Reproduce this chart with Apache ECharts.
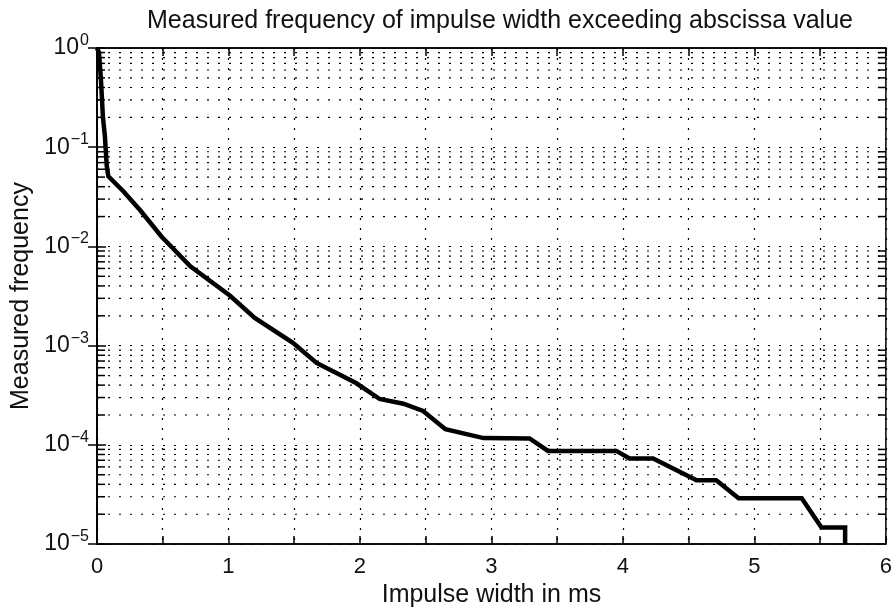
<!DOCTYPE html>
<html>
<head>
<meta charset="utf-8">
<script src="https://cdn.jsdelivr.net/npm/echarts@6/dist/echarts.min.js"></script>
<style>
  html, body { margin: 0; padding: 0; background: #fff; }
  #chart { width: 895px; height: 613px; }
</style>
</head>
<body>
<div id="chart"></div>
<script>
// impulse width (ms) and measured frequency
const widthMs = [0, 0.015, 0.03, 0.045, 0.06, 0.074, 0.086, 0.2, 0.33, 0.49, 0.71, 1.01, 1.2, 1.49, 1.67, 1.97, 2.15, 2.33, 2.48, 2.65, 2.94, 3.29, 3.43, 3.95, 4.05, 4.23, 4.56, 4.71, 4.88, 5.36, 5.51, 5.69, 5.69];
const measuredFreq = [1, 0.9, 0.48, 0.2, 0.13, 0.065, 0.051, 0.036, 0.023, 0.0126, 0.0063, 0.0032, 0.0019, 0.00107, 0.00067, 0.00042, 0.00029, 0.00026, 0.00022, 0.000144, 0.000117, 0.000116, 0.000087, 0.000087, 0.000073, 0.000073, 0.000044, 0.000044, 0.000029, 0.000029, 0.0000147, 0.0000147, 0.00001];

const xMin = 0, xMax = 6, xStep = 0.5;
const xLabels = ['0', '1', '2', '3', '4', '5', '6'];
const yMin = 1e-5, yMax = 1;
// 2..9 x 10^n grid lines of the log axis
const decades = [1e-5, 1e-4, 1e-3, 1e-2, 1e-1];
const minorMult = [2, 3, 4, 5, 6, 7, 8, 9];

const minorValues = [];
decades.forEach(d => minorMult.forEach(m => minorValues.push([xMin, m * d])));
const curve = widthMs.map((w, i) => [w, measuredFreq[i]]);

const chart = echarts.init(document.getElementById('chart'));
const font = '"Liberation Sans", Arial, Helvetica, sans-serif';
const gridDash = [2, 9];

const option = {
  animation: false,
  backgroundColor: '#fff',
  title: {
    text: 'Measured frequency of impulse width exceeding abscissa value',
    left: 495,
    textAlign: 'center',
    top: 4,
    textStyle: { fontFamily: font, fontSize: 25, fontWeight: 'normal', color: '#111' }
  },
  grid: {
    left: 97, right: 8, top: 48, bottom: 68,
    show: true, borderColor: '#000', borderWidth: 1.5, backgroundColor: 'transparent'
  },
  xAxis: [
    {
      type: 'value', min: xMin, max: xMax, interval: xStep,
      name: 'Impulse width in ms', nameLocation: 'middle', nameGap: 38,
      nameTextStyle: { fontFamily: font, fontSize: 25, color: '#111' },
      axisLine: { lineStyle: { color: '#000', width: 1.5 } },
      axisTick: { inside: true, length: 8, lineStyle: { color: '#000', width: 1.5 } },
      axisLabel: {
        margin: 12, fontFamily: font, fontSize: 22, color: '#111',
        formatter: v => (Number.isInteger(v) ? xLabels[v] : '')
      },
      splitLine: { show: true, lineStyle: { color: '#000', type: [2, 8], width: 1.2 } }
    },
    {
      type: 'value', min: xMin, max: xMax, interval: xStep, position: 'top',
      axisLine: { lineStyle: { color: '#000', width: 1.5 } },
      axisTick: { inside: true, length: 8, lineStyle: { color: '#000', width: 1.5 } },
      axisLabel: { show: false },
      splitLine: { show: false }
    }
  ],
  yAxis: [
    {
      type: 'log', logBase: 10, min: yMin, max: yMax,
      name: 'Measured frequency', nameLocation: 'middle', nameGap: 62,
      nameTextStyle: { fontFamily: font, fontSize: 25, color: '#111' },
      axisLine: { lineStyle: { color: '#000', width: 1.5 } },
      axisTick: { inside: true, length: 9, lineStyle: { color: '#000', width: 1.5 } },
      axisLabel: {
        margin: 8,
        formatter: v => {
          const e = Math.round(Math.log10(v));
          return '{b|10}{e|' + (e < 0 ? '\u2212' + (-e) : e) + '}';
        },
        rich: {
          b: { fontFamily: font, fontSize: 23, color: '#111' },
          e: { fontFamily: font, fontSize: 16, color: '#111', padding: [0, 0, 15, 1] }
        }
      },
      splitLine: { show: true, lineStyle: { color: '#000', type: gridDash, width: 1.2 } }
    },
    {
      type: 'log', logBase: 10, min: yMin, max: yMax, position: 'right',
      axisLine: { lineStyle: { color: '#000', width: 1.5 } },
      axisTick: { inside: true, length: 9, lineStyle: { color: '#000', width: 1.5 } },
      axisLabel: { show: false },
      splitLine: { show: false }
    }
  ],
  series: [
    {
      // minor log grid lines with their inner ticks
      type: 'custom',
      silent: true,
      z: 1,
      data: minorValues,
      renderItem: (params, api) => {
        const v = api.value(1);
        const a = api.coord([xMin, v]);
        const b = api.coord([xMax, v]);
        return {
          type: 'group',
          children: [
            { type: 'line', shape: { x1: a[0], y1: a[1], x2: b[0], y2: b[1] }, style: { stroke: '#000', lineWidth: 1.2, lineDash: gridDash } },
            { type: 'line', shape: { x1: a[0], y1: a[1], x2: a[0] + 8, y2: a[1] }, style: { stroke: '#000', lineWidth: 1.5 } },
            { type: 'line', shape: { x1: b[0] - 8, y1: b[1], x2: b[0], y2: b[1] }, style: { stroke: '#000', lineWidth: 1.5 } }
          ]
        };
      }
    },
    {
      type: 'line',
      data: curve,
      symbol: 'none',
      z: 3,
      lineStyle: { color: '#000', width: 4.5, join: 'miter' }
    }
  ]
};

chart.setOption(option);
</script>
</body>
</html>
